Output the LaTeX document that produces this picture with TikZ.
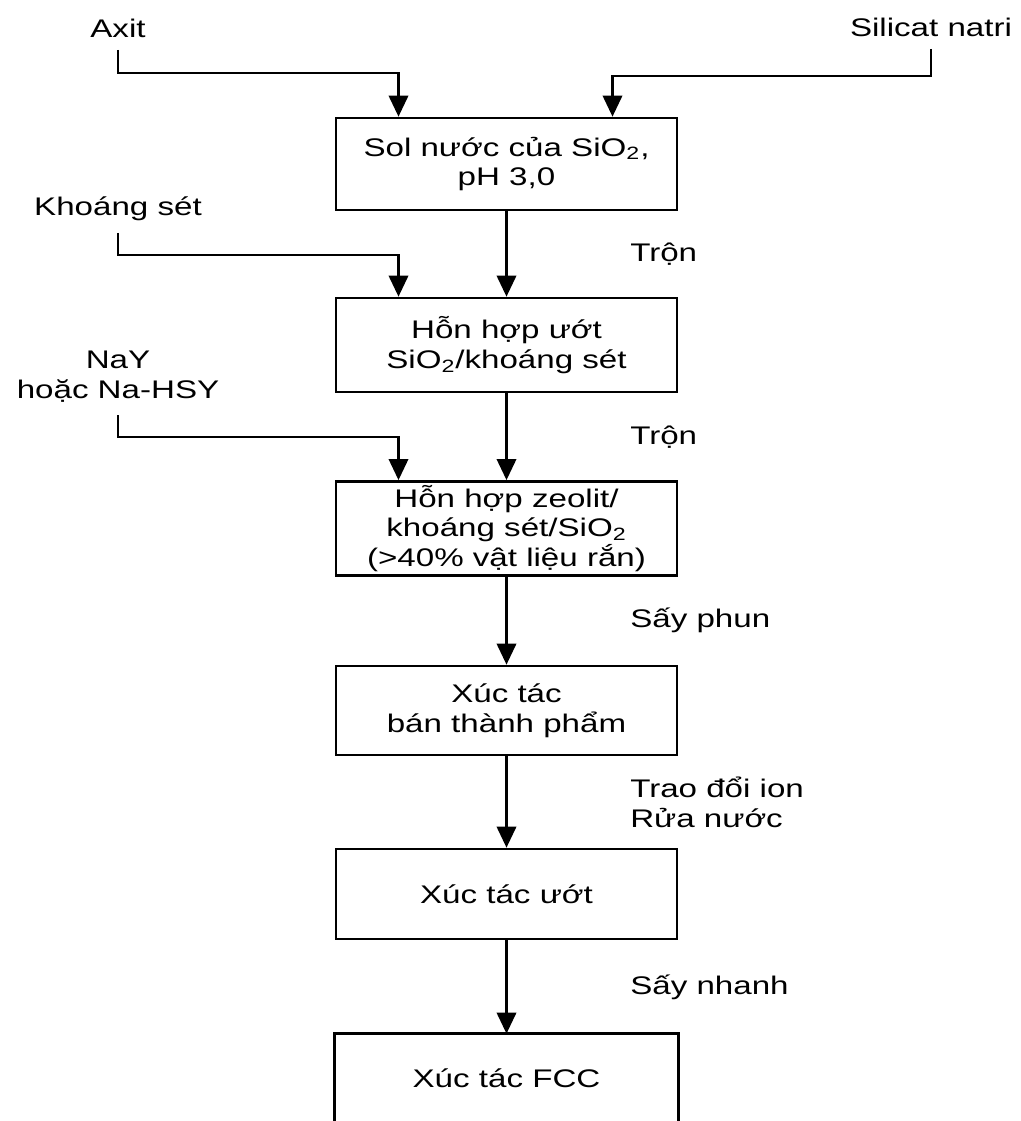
\documentclass[tikz,border=0pt]{standalone}
\usepackage{fontspec}
\setmainfont{Liberation Sans}[FakeStretch=1.3]
\usetikzlibrary{arrows.meta,calc}
\tikzset{
	stepbox/.style={draw,line width=1.5pt,minimum width=6.82cm,align=center,inner sep=2pt},
	feed/.style={align=center,inner sep=0pt,outer ysep=7pt,anchor=south},
	flow/.style={line width=1.5pt,-{Triangle[length=12pt,width=11pt]}},
	steplbl/.style={anchor=west,inner sep=0pt,xshift=69.7pt,align=left}
}

\begin{document}
\begin{tikzpicture}[x=0.02cm,y=-0.02cm,font=\fontsize{14.5}{17}\selectfont]
					\useasboundingbox (0,0) rectangle (1020,1121);
					\node[feed] (axit) at (118,50) {Axit};
					\node[feed] (silicat) at (931,49) {Silicat natri};
					\node[feed] (khoang) at (118,233) {Khoáng sét};
					\node[feed] (nay) at (118,415) {NaY\\hoặc Na-HSY};
					\node[stepbox,minimum height=1.84cm] (sol) at (506.5,164) {Sol nước của SiO\textsubscript{2},\\pH 3,0};
					\node[stepbox,minimum height=1.88cm] (mix) at (506.5,345) {Hỗn hợp ướt\\SiO\textsubscript{2}/khoáng sét};
					\node[stepbox,minimum height=1.86cm] (zeo) at (506.5,528.5) {Hỗn hợp zeolit/\\khoáng sét/SiO\textsubscript{2}\\(>40\% vật liệu rắn)};
					\node[stepbox,minimum height=1.78cm] (semi) at (506.5,710.5) {Xúc tác\\bán thành phẩm};
					\node[stepbox,minimum height=1.8cm] (wet) at (506.5,894) {Xúc tác ướt};
					\node[stepbox,draw=none,minimum height=1.72cm] (fcc) at (506.5,1078) {Xúc tác FCC};
					\draw[line width=1.5pt] (fcc.south west)--(fcc.north west)--(fcc.north east)--(fcc.south east);
					\draw[flow] (axit.south)--++(0,23)-|($(sol.north)+(-108,0)$);
					\draw[flow] (silicat.south)--++(0,27)-|($(sol.north)+(106,0)$);
					\draw[flow] (khoang.south)--++(0,22)-|($(mix.north)+(-108,0)$);
					\draw[flow] (nay.south)--++(0,22)-|($(zeo.north)+(-108,0)$);
					\draw[flow] (sol)--(mix) node[midway,steplbl] {Trộn};
					\draw[flow] (mix)--(zeo) node[midway,steplbl] {Trộn};
					\draw[flow] (zeo)--(semi) node[midway,steplbl] {Sấy phun};
					\draw[flow] (semi)--(wet) node[midway,steplbl] {Trao đổi ion\\Rửa nước};
					\draw[flow] (wet)--(fcc) node[midway,steplbl] {Sấy nhanh};
				\end{tikzpicture}
\end{document}
